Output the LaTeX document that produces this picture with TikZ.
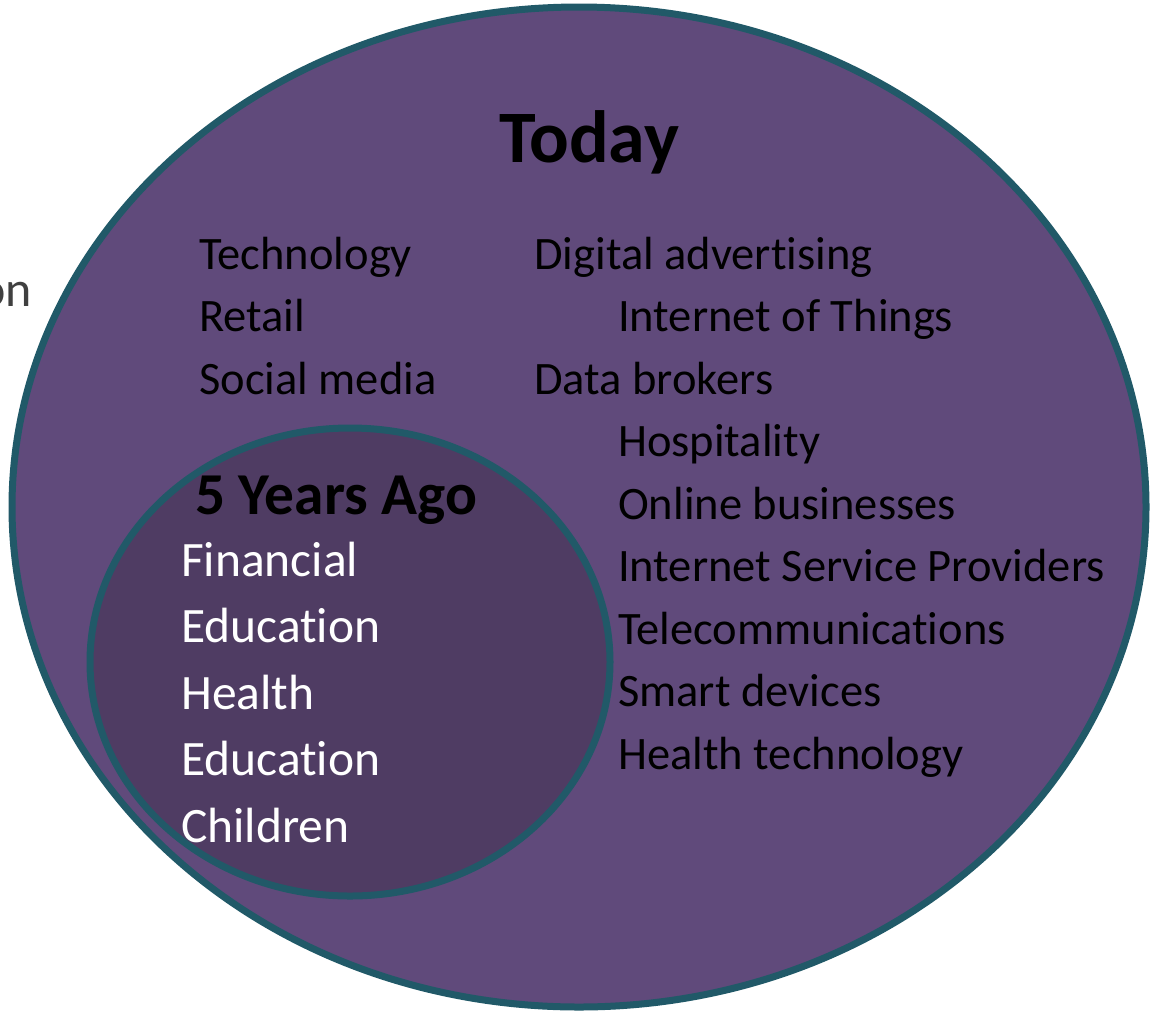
\documentclass[tikz,border=0pt]{standalone}
\usepackage{fontspec}
\setmainfont[Ligatures=NoCommon]{Carlito}
\definecolor{outerfill}{HTML}{604A7B}
\definecolor{innerfill}{HTML}{4F3C63}
\definecolor{rim}{HTML}{215968}
\definecolor{grayt}{HTML}{404040}
\begin{document}
\begin{tikzpicture}[x=1pt,y=-1pt,
  rimline/.style={draw=rim,line width=7pt},
  body/.style={anchor=base west,inner sep=0pt,font=\fontsize{46.5}{54}\selectfont,text=black},
  inbody/.style={anchor=base west,inner sep=0pt,font=\fontsize{49.5}{58}\selectfont,text=white}]
\useasboundingbox (0,0) rectangle (1159,1013);
\node[anchor=base east,inner sep=0pt,font=\fontsize{50}{58}\selectfont,text=grayt] (cut) at (32,306) {on};
\draw[rimline,fill=outerfill] (579,507) ellipse [x radius=567,y radius=500];
\draw[rimline,fill=innerfill] (350,662) ellipse [x radius=260,y radius=234];
\node[anchor=base,inner sep=0pt,font=\fontsize{74}{84}\selectfont\bfseries] (today) at (589,162) {Today};
\node[anchor=base west,inner sep=0pt,font=\fontsize{59.4}{68}\selectfont\bfseries] (ago) at (195,514) {5 Years Ago};
\node[body] (t1) at (199,269) {Technology};
\node[body] (t2) at (199,331.5) {Retail};
\node[body] (t3) at (199,394) {Social media};
\node[body] (r1) at (534,269) {Digital advertising};
\node[body] (r2) at (618,331.5) {Internet of Things};
\node[body] (r3) at (534,394) {Data brokers};
\node[body] (r4) at (618,456.5) {Hospitality};
\node[body] (r5) at (618,519) {Online businesses};
\node[body] (r6) at (618,581.5) {Internet Service Providers};
\node[body] (r7) at (618,644) {Telecommunications};
\node[body] (r8) at (618,706.5) {Smart devices};
\node[body] (r9) at (618,769) {Health technology};
\node[inbody] (f1) at (181,576) {Financial};
\node[inbody] (f2) at (181,642.5) {Education};
\node[inbody] (f3) at (181,709) {Health};
\node[inbody] (f4) at (181,775.5) {Education};
\node[inbody] (f5) at (181,842) {Children};
\end{tikzpicture}
\end{document}
